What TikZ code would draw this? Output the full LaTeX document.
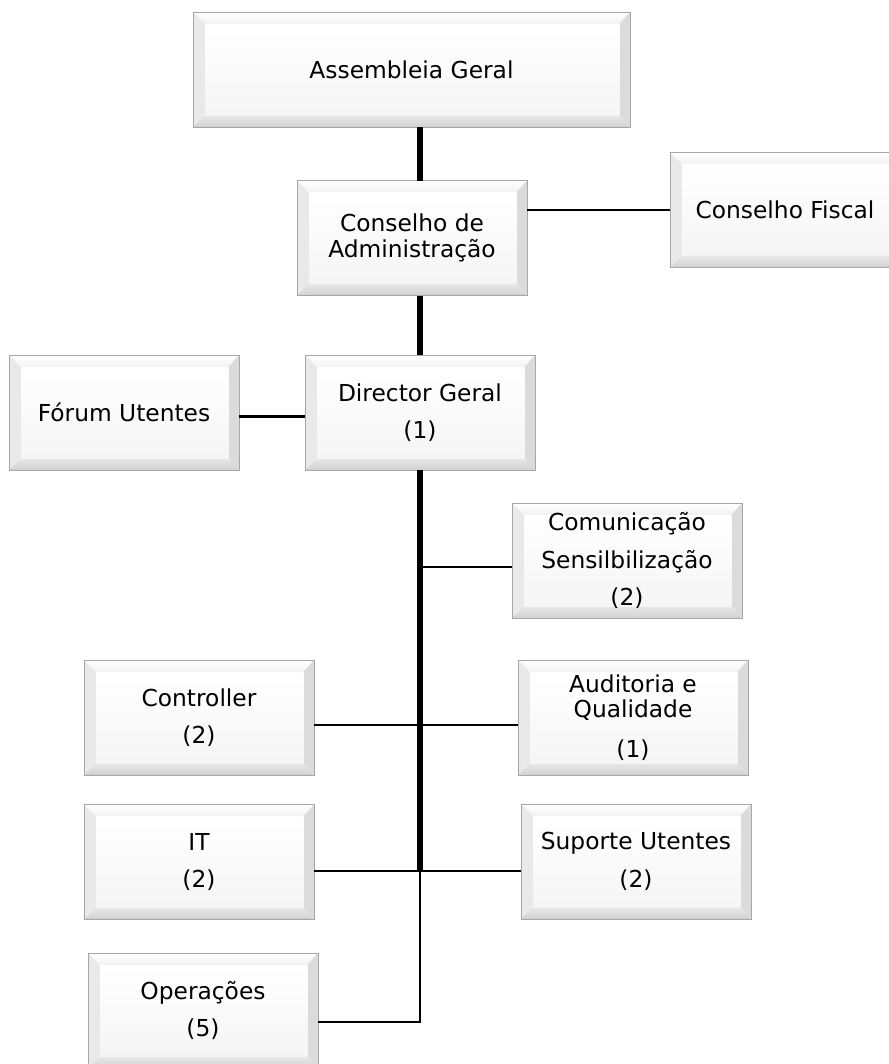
\documentclass[tikz,border=0pt]{standalone}
\usepackage{fontspec}
\setmainfont{DejaVu Sans}
\usetikzlibrary{calc}

\tikzset{
  bloco/.style={draw=gray!70, line width=0.6pt, inner sep=0pt, outer sep=0pt,
    minimum width=172.5pt, minimum height=86.25pt, align=center,
    font=\fontsize{17.5}{28}\selectfont,
    path picture={
      \path (path picture bounding box.north west) coordinate (pnw)
            (path picture bounding box.north east) coordinate (pne)
            (path picture bounding box.south west) coordinate (psw)
            (path picture bounding box.south east) coordinate (pse);
      \path ($(pnw)+(9pt,-9pt)$) coordinate (qnw) ($(pne)+(-8pt,-9pt)$) coordinate (qne)
            ($(psw)+(9pt,9pt)$) coordinate (qsw) ($(pse)+(-8pt,9pt)$) coordinate (qse);
      %biseau
      \shade[top color=white, bottom color=gray!10] (pnw) -- (pne) -- (qne) -- (qnw) -- cycle;
      \fill[gray!17] (pnw) -- (qnw) -- (qsw) -- (psw) -- cycle;
      \fill[gray!28] (pne) -- (qne) -- (qse) -- (pse) -- cycle;
      \shade[top color=gray!18, bottom color=gray!36] (psw) -- (qsw) -- (qse) -- (pse) -- cycle;
      \shade[top color=white, bottom color=gray!8] (qsw) rectangle (qne);
    }},
  linha/.style={line width=1.9pt},
  tronco/.style={line width=5pt},
}

\begin{document}
\begin{tikzpicture}[x=0.75pt,y=-0.75pt]
\useasboundingbox (0,0) rectangle (889,1064);
\clip (0,0) rectangle (889,1064);
%caixas
\node[bloco, minimum width=327.75pt] (ag) at (411.5,69.5) {Assembleia Geral};
\node[bloco] (ca) at (412,238) {Conselho de\\[-9pt]Administração};
\node[bloco] (cf) at (785,210) {Conselho Fiscal};
\node[bloco] (fu) at (124,412.5) {Fórum Utentes};
\node[bloco] (dg) at (420,412.5) {Director Geral\\(1)};
\node[bloco] (cs) at (627,560.5) {Comunicação\\Sensilbilização\\(2)};
\node[bloco] (ct) at (199,717.5) {Controller\\(2)};
\node[bloco] (aq) at (633,717.5) {Auditoria e\\[-9pt]Qualidade\\[2pt](1)};
\node[bloco] (it) at (199,862) {IT\\(2)};
\node[bloco] (su) at (636,861.5) {Suporte Utentes\\(2)};
\node[bloco] (op) at (203,1010.5) {Operações\\(5)};
%fin caixas
%eixo central
\coordinate (eixo) at (420,0);
\coordinate (fim) at (420,871);
\coordinate (jcs) at (420,567);
\coordinate (jca) at (420,725);
\coordinate (jop) at (420,1022);
\draw[tronco] (ag.south -| eixo) -- (ca.north -| eixo);
\draw[tronco] (ca.south -| eixo) -- (dg.north -| eixo);
\draw[tronco] (dg.south -| eixo) -- (fim);
%ramos
\draw[linha] (ca.east |- cf.west) -- (cf.west);
\draw[linha] ([yshift=-3pt]fu.east) -- ([yshift=-3pt]dg.west);
\draw[linha] (jcs) -- (jcs -| cs.west);
\draw[linha] (jca -| ct.east) -- (jca -| aq.west);
\draw[linha] (fim -| it.east) -- (fim -| su.west);
\draw[linha] (fim) -- (jop) -- (jop -| op.east);
\end{tikzpicture}
\end{document}
